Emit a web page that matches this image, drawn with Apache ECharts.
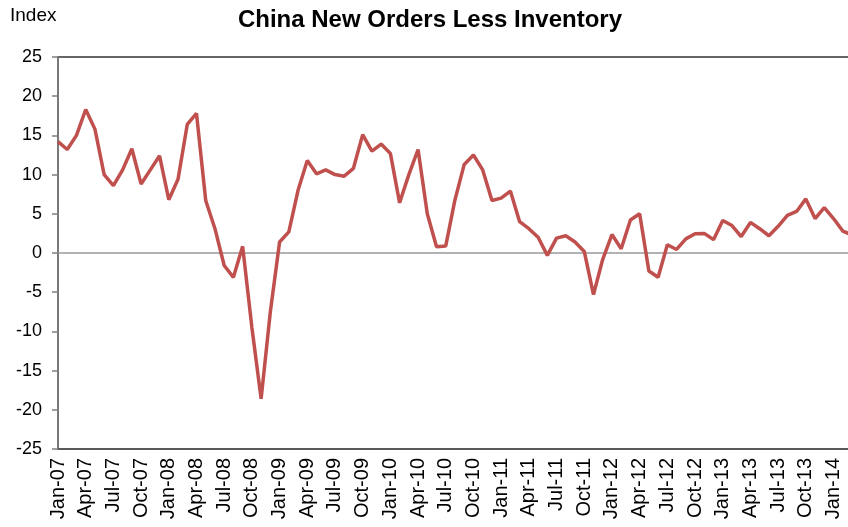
<!DOCTYPE html>
<html>
<head>
<meta charset="utf-8">
<script src="https://cdn.jsdelivr.net/npm/echarts@6/dist/echarts.min.js"></script>
<style>
  html, body { margin: 0; padding: 0; background: #fff; }
  #chart { width: 848px; height: 527px; }
</style>
</head>
<body>
<div id="chart"></div>
<script>
// Monthly categories, Jan-07 .. Mar-14
const months = [
  'Jan-07','Feb-07','Mar-07','Apr-07','May-07','Jun-07','Jul-07','Aug-07','Sep-07','Oct-07','Nov-07','Dec-07',
  'Jan-08','Feb-08','Mar-08','Apr-08','May-08','Jun-08','Jul-08','Aug-08','Sep-08','Oct-08','Nov-08','Dec-08',
  'Jan-09','Feb-09','Mar-09','Apr-09','May-09','Jun-09','Jul-09','Aug-09','Sep-09','Oct-09','Nov-09','Dec-09',
  'Jan-10','Feb-10','Mar-10','Apr-10','May-10','Jun-10','Jul-10','Aug-10','Sep-10','Oct-10','Nov-10','Dec-10',
  'Jan-11','Feb-11','Mar-11','Apr-11','May-11','Jun-11','Jul-11','Aug-11','Sep-11','Oct-11','Nov-11','Dec-11',
  'Jan-12','Feb-12','Mar-12','Apr-12','May-12','Jun-12','Jul-12','Aug-12','Sep-12','Oct-12','Nov-12','Dec-12',
  'Jan-13','Feb-13','Mar-13','Apr-13','May-13','Jun-13','Jul-13','Aug-13','Sep-13','Oct-13','Nov-13','Dec-13',
  'Jan-14','Feb-14','Mar-14'
];

// New orders index minus inventory index
const newOrdersLessInventory = [
  14.2, 13.2, 15.0, 18.3, 15.8, 10.0, 8.6, 10.6, 13.3, 8.8, 10.6, 12.4,
  6.8, 9.4, 16.4, 17.8, 6.7, 3.1, -1.6, -3.1, 0.85, -9.5, -18.6, -7.5,
  1.4, 2.7, 8.0, 11.8, 10.1, 10.6, 10.0, 9.8, 10.8, 15.1, 13.0, 13.9,
  12.7, 6.4, 10.0, 13.2, 5.0, 0.8, 0.9, 6.8, 11.3, 12.5, 10.6, 6.7,
  7.0, 7.9, 4.0, 3.1, 2.0, -0.3, 1.9, 2.2, 1.4, 0.2, -5.3, -0.8,
  2.35, 0.55, 4.2, 5.0, -2.3, -3.1, 1.05, 0.45, 1.8, 2.45, 2.5, 1.7,
  4.15, 3.5, 2.1, 3.9, 3.1, 2.2, 3.4, 4.8, 5.3, 6.9, 4.4, 5.8,
  4.4, 2.8, 2.3
];

const yTicks = { min: -25, max: 25, step: 5 };

const chart = echarts.init(document.getElementById('chart'), null, { renderer: 'canvas' });

chart.setOption({
  animation: false,
  backgroundColor: '#ffffff',
  title: {
    text: 'China New Orders Less Inventory',
    left: 425,
    top: 3,
    textAlign: 'center',
    textStyle: {
      fontFamily: 'Liberation Sans, Arial, sans-serif',
      fontSize: 24,
      fontWeight: 'bold',
      color: '#000'
    }
  },
  graphic: [{
    type: 'text',
    left: 10,
    top: 6,
    style: {
      text: 'Index',
      font: '19px "Liberation Sans", Arial, sans-serif',
      fill: '#000'
    }
  }],
  grid: {
    left: 58,
    top: 57,
    bottom: 78,
    width: 794,
    outerBoundsMode: 'none',
    containLabel: false,
    show: true,
    borderColor: '#333',
    borderWidth: 1.5,
    backgroundColor: 'transparent'
  },
  xAxis: {
    type: 'category',
    data: months,
    boundaryGap: false,
    axisLine: { onZero: false, lineStyle: { color: '#555', width: 1.5 } },
    axisTick: { show: false },
    splitLine: { show: false },
    axisLabel: {
      interval: 2,
      rotate: 90,
      margin: 9,
      fontFamily: 'Liberation Sans, Arial, sans-serif',
      fontSize: 20,
      color: '#000'
    }
  },
  yAxis: {
    type: 'value',
    min: yTicks.min,
    max: yTicks.max,
    interval: yTicks.step,
    axisLine: { show: true, lineStyle: { color: '#808080', width: 1.5 } },
    axisTick: { show: true, length: 6, lineStyle: { color: '#808080', width: 1.5 } },
    splitLine: { show: false },
    axisLabel: {
      margin: 16,
      fontFamily: 'Liberation Sans, Arial, sans-serif',
      fontSize: 18,
      color: '#000'
    }
  },
  series: [{
    type: 'line',
    data: newOrdersLessInventory,
    symbol: 'none',
    lineStyle: { color: '#C0504D', width: 3.5 },
    itemStyle: { color: '#C0504D' },
    z: 3,
    markLine: {
      silent: true,
      symbol: 'none',
      label: { show: false },
      lineStyle: { color: '#999', width: 1.5, type: 'solid' },
      data: [{ yAxis: 0 }],
      z: 2
    }
  }]
});
</script>
</body>
</html>
